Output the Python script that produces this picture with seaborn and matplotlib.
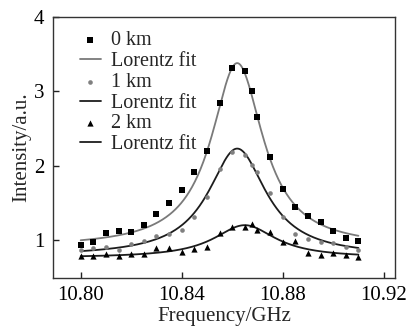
import numpy as np
import pandas as pd
import seaborn as sns
import matplotlib
matplotlib.use("Agg")
from matplotlib import pyplot as plt

# Datos
freq = [10.800, 10.805, 10.810, 10.815, 10.820, 10.825, 10.830, 10.835,
        10.840, 10.845, 10.850, 10.855, 10.860, 10.865, 10.868, 10.870,
        10.875, 10.880, 10.885, 10.890, 10.895, 10.900, 10.905, 10.910]
int_0km = [0.93, 0.98, 1.09, 1.12, 1.11, 1.20, 1.35, 1.50, 1.67, 1.92, 2.20, 2.84,
           3.31, 3.27, 3.01, 2.66, 2.12, 1.68, 1.44, 1.33, 1.24, 1.12, 1.03, 0.99]
int_1km = [0.87, 0.89, 0.90, 0.87, 0.95, 0.99, 1.05, 1.08, 1.14, 1.31, 1.58, 1.95,
           2.19, 2.15, 2.01, 1.91, 1.63, 1.31, 1.08, 1.02, 0.97, 0.96, 0.90, 0.87]
int_2km = [0.79, 0.79, 0.81, 0.78, 0.81, 0.81, 0.89, 0.89, 0.84, 0.88, 0.90, 1.10,
           1.17, 1.18, 1.22, 1.13, 1.11, 0.98, 0.99, 0.83, 0.80, 0.83, 0.80, 0.77]

# Parametros del ajuste de Lorentz (0 km, 1 km, 2 km)
fit_center = [10.862, 10.862, 10.865]
fit_hwhm = [0.0125, 0.014, 0.015]
fit_base = [0.90, 0.78, 0.76]
fit_height = [2.48, 1.45, 0.44]

series_labels = ["0 km", "1 km", "2 km"]
series_data = [int_0km, int_1km, int_2km]

sns.set_style("ticks")
plt.rcParams['font.family'] = ['Liberation Serif', 'DejaVu Serif']
plt.rcParams['font.size'] = 15

fig = plt.figure(figsize=(4.07, 3.27), dpi=100)
ax = fig.add_axes([0.130, 0.150, 0.8405, 0.798])

marker_style = [("s", "black", 16), ("o", "#808080", 11), ("^", "black", 20)]
line_colors = ["#7a7a7a", "#1c1c1c", "#1c1c1c"]

xf = np.linspace(10.80, 10.91, 300)
for i in range(3):
    df = pd.DataFrame({"freq": freq, "intensity": series_data[i]})
    m, c, s = marker_style[i]
    sns.scatterplot(data=df, x="freq", y="intensity", marker=m, color=c, s=s,
                    linewidth=0, label=series_labels[i], ax=ax, zorder=3)
    yf = fit_base[i] + fit_height[i] * fit_hwhm[i]**2 / (fit_hwhm[i]**2 + (xf - fit_center[i])**2)
    sns.lineplot(x=xf, y=yf, color=line_colors[i], linewidth=1.3,
                 label="Lorentz fit", ax=ax, zorder=2)

ax.set_xlim(10.789, 10.9245)
ax.set_ylim(0.49, 4.0)
ax.set_xticks([10.80, 10.84, 10.88, 10.92])
ax.set_xticklabels(["10.80", "10.84", "10.88", "10.92"])
ax.set_yticks([1, 2, 3, 4])
ax.tick_params(direction="in", length=4, width=1, colors="#222222", labelcolor="black", pad=6)
for sp in ax.spines.values():
    sp.set_color("#333333")
    sp.set_linewidth(1.0)

ax.set_xlabel("Frequency/GHz", labelpad=1)
ax.set_ylabel("Intensity/a.u.", labelpad=2)

handles, labels = ax.get_legend_handles_labels()
ax.legend(handles, labels, loc="upper left", bbox_to_anchor=(0.078, 0.945),
          frameon=False, handlelength=1.05, handletextpad=0.5,
          labelspacing=0.08, borderpad=0, borderaxespad=0, fontsize=14.5)

fig.savefig("out.png", dpi=100)
